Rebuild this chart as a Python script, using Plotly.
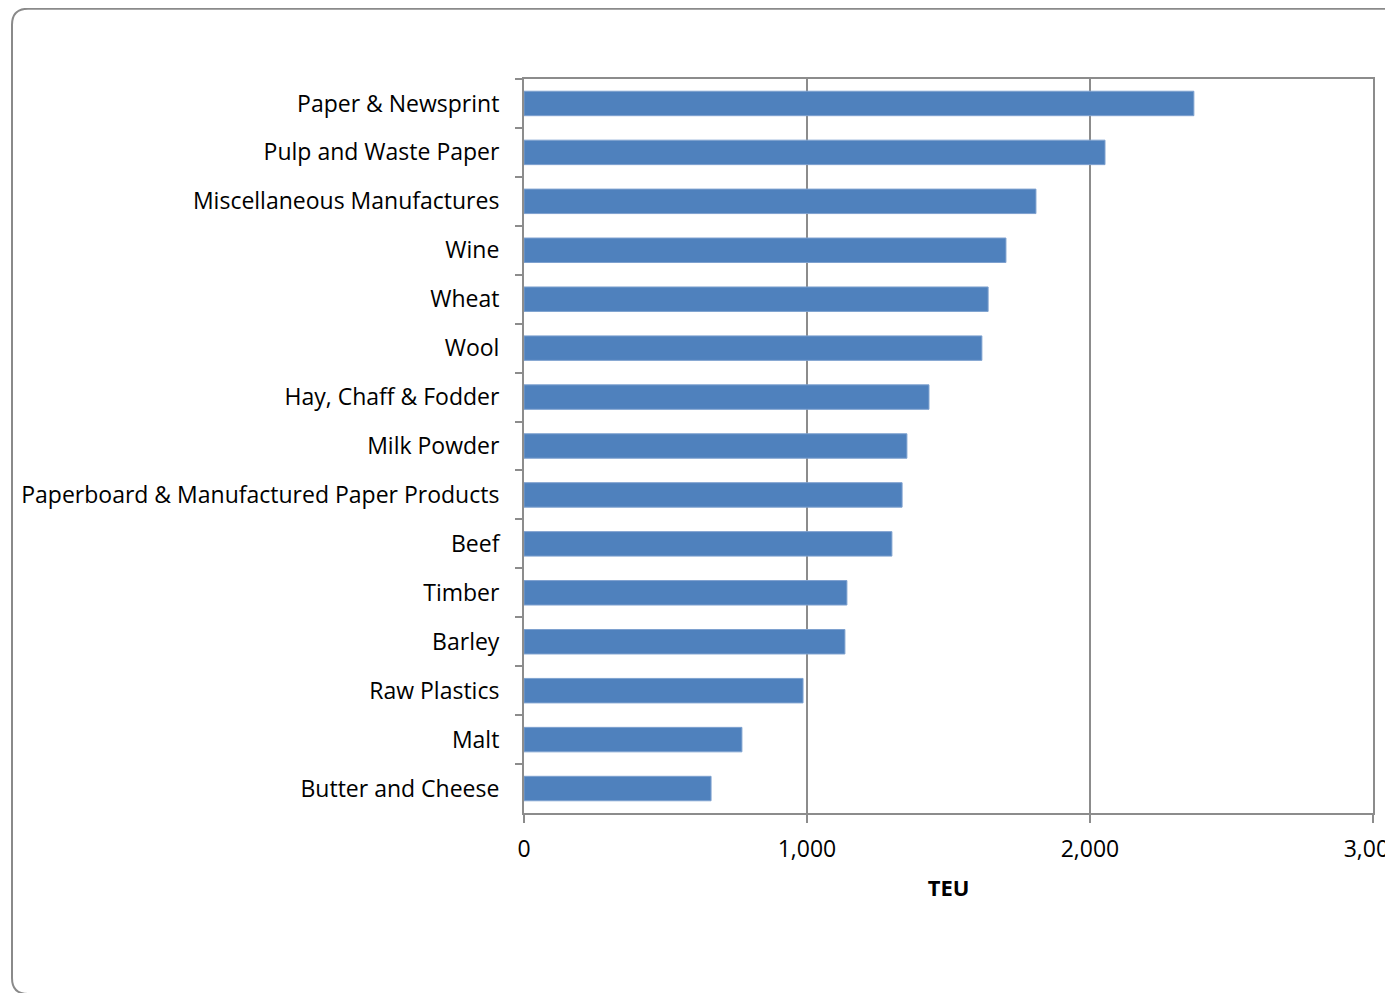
import plotly.graph_objects as go

categories = ["Paper & Newsprint", "Pulp and Waste Paper", "Miscellaneous Manufactures",
              "Wine", "Wheat", "Wool", "Hay, Chaff & Fodder", "Milk Powder",
              "Paperboard & Manufactured Paper Products", "Beef", "Timber", "Barley",
              "Raw Plastics", "Malt", "Butter and Cheese"]
values = [2367, 2053, 1809, 1703, 1640, 1618, 1431, 1353, 1336, 1300, 1141, 1134, 986, 770, 661]
x_ticks = [0, 1000, 2000, 3000]
x_ticklabels = ["0", "1,000", "2,000", "3,000"]

W, H = 1393, 993
L, R, T, B = 516, 28, 71, 188
pw, ph = W - L - R, H - T - B

FONT = "Open Sans"
FS = 23
GRAY = "#8c8c8c"

fig = go.Figure(go.Bar(
    x=values, y=categories, orientation="h",
    marker=dict(color="#4F81BD", line=dict(color="#7EA1CF", width=1)),
    width=0.5,
))

def px2x(p):
    return (p - L) / pw

def px2y(p):
    return (H - B - p) / ph

r = 16
x0, y0 = 4, 0.8
x1, y1 = 1420, 986
path = (f"M {px2x(x1)} {px2y(y0)} L {px2x(x0 + r)} {px2y(y0)} "
        f"Q {px2x(x0)} {px2y(y0)} {px2x(x0)} {px2y(y0 + r)} "
        f"L {px2x(x0)} {px2y(y1 - r)} "
        f"Q {px2x(x0)} {px2y(y1)} {px2x(x0 + r)} {px2y(y1)} "
        f"L {px2x(x1)} {px2y(y1)}")

fig.update_layout(
    width=W, height=H, autosize=False,
    margin=dict(l=L, r=R, t=T, b=B, pad=0, autoexpand=False),
    paper_bgcolor="white", plot_bgcolor="white",
    showlegend=False,
    font=dict(family=FONT, size=FS, color="black"),
    shapes=[dict(type="path", path=path, xref="paper", yref="paper",
                 line=dict(color="#8a8a8a", width=2), layer="below")],
    xaxis=dict(
        range=[0, 3000], tickvals=x_ticks, ticktext=x_ticklabels,
        automargin=False,
        showgrid=True, gridcolor=GRAY, gridwidth=2,
        showline=True, linecolor=GRAY, linewidth=2, mirror=True,
        ticks="outside", ticklen=8, tickwidth=2, tickcolor=GRAY,
        zeroline=False, ticklabelstandoff=6, ticklabeloverflow="allow",
        title=dict(text="<b>TEU</b>", font=dict(size=FS - 1, family=FONT), standoff=18),
        tickfont=dict(size=FS, family=FONT),
    ),
    yaxis=dict(
        categoryorder="array", categoryarray=categories, autorange="reversed",
        automargin=False,
        showline=True, linecolor=GRAY, linewidth=2, mirror=True,
        ticks="outside", ticklen=7, tickwidth=2, tickcolor=GRAY,
        tickson="boundaries", showgrid=False,
        ticklabelstandoff=18,
        tickfont=dict(size=FS, family=FONT),
    ),
    bargap=0.5,
)

fig.write_html("out.html")
